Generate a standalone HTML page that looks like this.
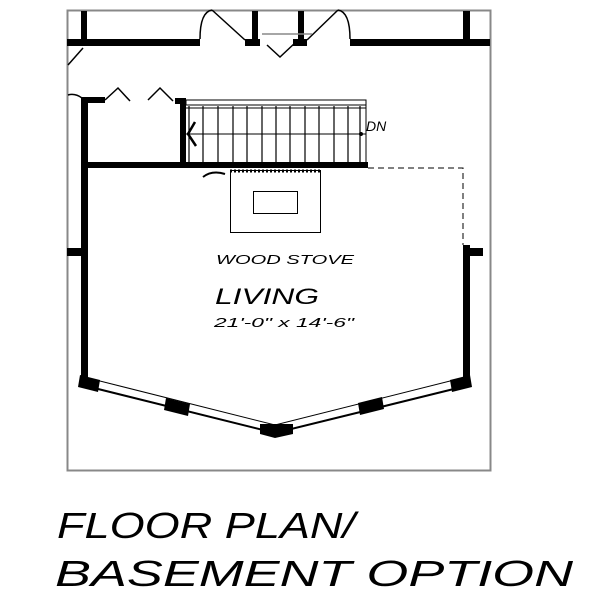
<!DOCTYPE html>
<html><head><style>body{margin:0;background:#fff}svg{display:block}</style></head><body>
<svg width="600" height="600" viewBox="0 0 600 600" xmlns="http://www.w3.org/2000/svg">
<rect x="67.5" y="10.5" width="423" height="460" fill="none" stroke="#888" stroke-width="2"/>
<g fill="#000">
<rect x="67" y="39" width="133" height="7"/>
<rect x="245" y="39" width="15" height="7"/>
<rect x="293" y="39" width="14" height="7"/>
<rect x="350" y="39" width="140" height="7"/>
<rect x="81" y="11" width="6" height="35"/>
<rect x="463" y="11" width="7" height="35"/>
<rect x="252" y="11" width="6" height="35"/>
<rect x="298" y="11" width="6" height="35"/>
<rect x="81" y="97" width="7" height="290"/>
<rect x="81" y="97" width="24" height="6"/>
<rect x="175" y="98" width="11" height="6"/>
<rect x="180" y="98" width="6" height="68"/>
<rect x="81" y="162" width="287" height="6"/>
<rect x="463" y="245" width="7" height="142"/>
<rect x="67" y="248" width="15" height="8"/>
<rect x="470" y="248" width="13" height="8"/>
</g>
<!-- bay window walls -->
<g stroke="#000" fill="none">
<polyline points="82,385 275,433 470,385" stroke-width="2"/>
<polyline points="84,377 275,425 466,377" stroke-width="1"/>
</g>
<g fill="#000">
<polygon points="80,375 100,380 98,392 78,387"/>
<polygon points="166,398 190,404 188,416 164,410"/>
<polygon points="260,424 293,424 293,434 275,438 260,434"/>
<polygon points="358,403 382,397 384,409 360,415"/>
<polygon points="450,380 470,375 472,387 452,392"/>
</g>
<!-- door swings -->
<g stroke="#000" fill="none" stroke-width="1.5">
<path d="M200,39 Q200,12 212,10"/><line x1="212" y1="10" x2="245" y2="40"/>
<path d="M350,39 Q350,12 338,10"/><line x1="338" y1="10" x2="307" y2="40"/>
<line x1="262" y1="34" x2="312" y2="34" stroke="#888"/>
<polyline points="267,45 280,57 296,42"/>
<line x1="83" y1="48" x2="68" y2="65"/>
<path d="M68,95 Q75,93 82,98"/>
<polyline points="105,100 118,88 130,101"/>
<polyline point="" points="148,100 160,88 173,101"/>
</g>
<!-- stairs -->
<g stroke="#000" fill="none" stroke-width="1">
<rect x="186" y="100" width="180" height="5" fill="#fff"/>
<line x1="186" y1="108" x2="366" y2="108"/>
<line x1="186" y1="134" x2="366" y2="134"/>
<line x1="366" y1="105" x2="366" y2="162"/>
<g stroke-width="1.2">
<line x1="189" y1="106" x2="189" y2="162"/><line x1="203" y1="106" x2="203" y2="162"/><line x1="218" y1="106" x2="218" y2="162"/><line x1="233" y1="106" x2="233" y2="162"/><line x1="247" y1="106" x2="247" y2="162"/><line x1="262" y1="106" x2="262" y2="162"/><line x1="276" y1="106" x2="276" y2="162"/><line x1="290" y1="106" x2="290" y2="162"/><line x1="305" y1="106" x2="305" y2="162"/><line x1="319" y1="106" x2="319" y2="162"/><line x1="334" y1="106" x2="334" y2="162"/><line x1="348" y1="106" x2="348" y2="162"/><line x1="360" y1="106" x2="360" y2="162"/>
</g>
<polyline points="195,122 188,134 196,146" stroke-width="2.5"/>
<circle cx="361" cy="134" r="1.5" fill="#000"/>
</g>
<text x="366" y="131" font-family="Liberation Sans,sans-serif" font-size="14" font-style="italic">DN</text>
<!-- chimney / stove -->
<rect x="230.5" y="170.5" width="90" height="62" fill="none" stroke="#000"/>
<rect x="253.5" y="191.5" width="44" height="22" fill="none" stroke="#000"/>
<line x1="230" y1="171" x2="320" y2="171" stroke="#000" stroke-width="3" stroke-dasharray="2 2"/>
<path d="M203,177 Q212,170 225,174" stroke="#000" fill="none" stroke-width="2"/>
<polyline points="368,168 463,168 463,245" fill="none" stroke="#000" stroke-dasharray="6 4"/>
<g font-family="Liberation Sans,sans-serif" font-style="italic" fill="#000">
<text x="216" y="264" font-size="13" textLength="138" lengthAdjust="spacingAndGlyphs">WOOD STOVE</text>
<text x="215" y="304" font-size="22" textLength="104" lengthAdjust="spacingAndGlyphs">LIVING</text>
<text x="214" y="327" font-size="13" textLength="140" lengthAdjust="spacingAndGlyphs">21'-0" x 14'-6"</text>
<text x="57" y="538" font-size="36" textLength="298" lengthAdjust="spacingAndGlyphs">FLOOR PLAN/</text>
<text x="55" y="586" font-size="36" textLength="518" lengthAdjust="spacingAndGlyphs">BASEMENT OPTION</text>
</g>
</svg>
</body></html>
